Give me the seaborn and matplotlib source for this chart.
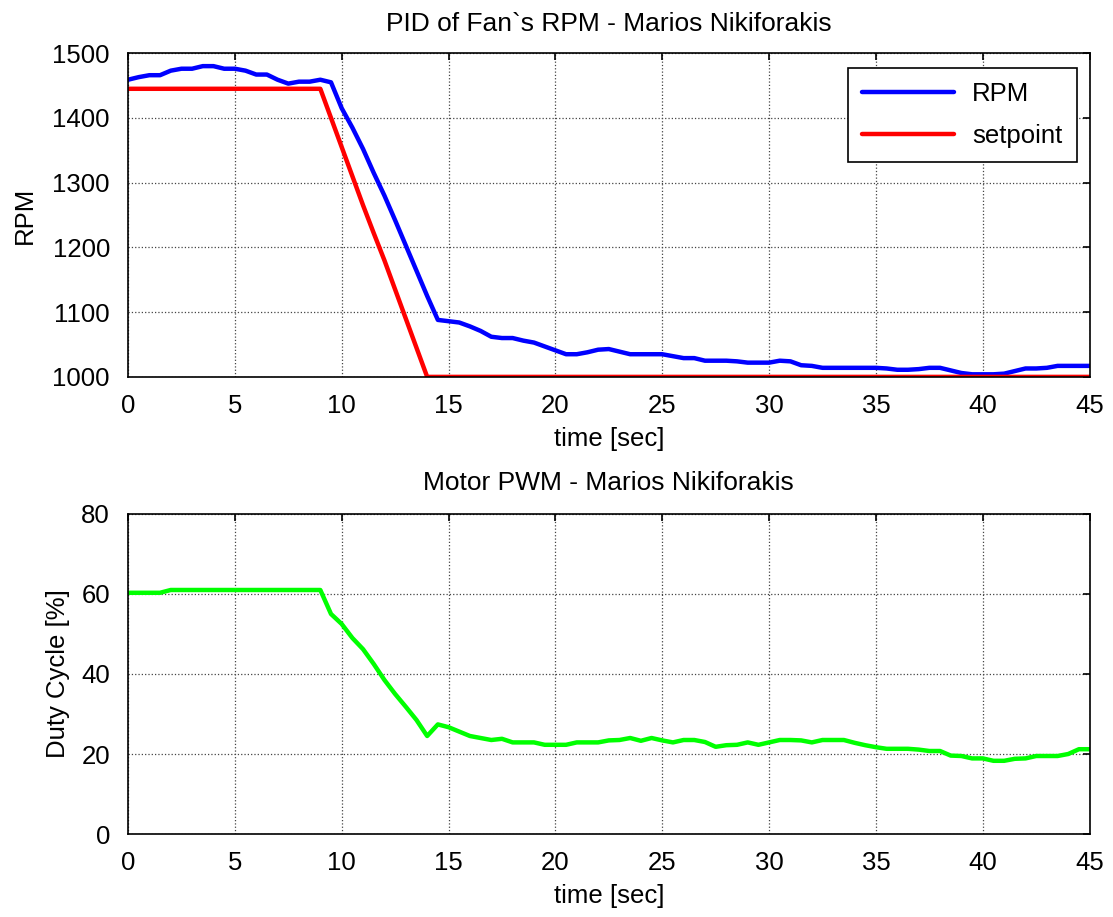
import numpy as np
import pandas as pd
import matplotlib
matplotlib.use('Agg')
import matplotlib.pyplot as plt
import seaborn as sns

# sample times (every 0.5 sec)
time = np.linspace(0, 45, 91)

rpm = [1459, 1463, 1466, 1466, 1473, 1476, 1476, 1480, 1480, 1476,
       1476, 1473, 1467, 1467, 1459, 1453, 1456, 1456, 1459, 1455,
       1415, 1385, 1352, 1315, 1280, 1242, 1203, 1164, 1125, 1088,
       1086, 1084, 1078, 1071, 1062, 1060, 1060, 1056, 1053, 1047,
       1041, 1035, 1035, 1038, 1042, 1043, 1039, 1035, 1035, 1035,
       1035, 1032, 1029, 1029, 1025, 1025, 1025, 1024, 1022, 1022,
       1022, 1025, 1024, 1018, 1017, 1014, 1014, 1014, 1014, 1014,
       1014, 1013, 1011, 1011, 1012, 1014, 1014, 1010, 1006, 1004,
       1004, 1004, 1005, 1009, 1013, 1013, 1014, 1017, 1017, 1017,
       1017]

setpoint = [1445] * 19 + [1400, 1355, 1310, 1265, 1222, 1180, 1135, 1090, 1045, 1000] + [1000] * 62

pwm = [60.3, 60.3, 60.3, 60.3] + [61.0] * 15 + [
       55.0, 52.5, 49.0, 46.2, 42.5, 38.5, 35.0, 31.8, 28.5, 24.5,
       27.4, 26.7, 25.6, 24.5, 24.0, 23.5, 23.8, 22.9, 22.9, 22.9,
       22.3, 22.3, 22.3, 22.9, 22.9, 22.9, 23.4, 23.5, 24.0, 23.3,
       24.0, 23.4, 22.9, 23.5, 23.5, 23.0, 21.8, 22.2, 22.3, 22.9,
       22.3, 22.9, 23.5, 23.5, 23.4, 22.9, 23.5, 23.5, 23.5, 22.8,
       22.2, 21.7, 21.3, 21.3, 21.3, 21.1, 20.75, 20.75, 19.6, 19.5,
       18.9, 18.9, 18.3, 18.3, 18.8, 18.9, 19.5, 19.5, 19.5, 20.0,
       21.2, 21.2]

sns.set_theme(style='white')
plt.rcParams['font.family'] = ['Liberation Sans', 'DejaVu Sans']
plt.rcParams['text.color'] = 'black'
plt.rcParams['axes.labelcolor'] = 'black'
fs = 18.5

fig = plt.figure(figsize=(11.13, 9.17), dpi=100)
ax1 = fig.add_axes([0.115, 0.589, 0.864, 0.353])
ax2 = fig.add_axes([0.115, 0.0905, 0.864, 0.349])

# RPM plot
sns.lineplot(x=time, y=rpm, color='#0000ff', lw=3.2, ax=ax1, label='RPM')
sns.lineplot(x=time, y=setpoint, color='#ff0000', lw=3.2, ax=ax1, label='setpoint')
ax1.set_xlim(0, 45)
ax1.set_ylim(1000, 1500)
ax1.set_yticks([1000, 1100, 1200, 1300, 1400, 1500])
ax1.set_title('PID of Fan`s RPM - Marios Nikiforakis', fontsize=19, pad=16)
ax1.set_ylabel('RPM', fontsize=fs, labelpad=11)
ax1.set_xlabel('time [sec]', fontsize=fs, labelpad=7)
leg = ax1.legend(loc='upper right', fontsize=fs, frameon=True, fancybox=False,
                 edgecolor='black', framealpha=1, borderpad=0.55, labelspacing=0.7,
                 handlelength=3.6, handletextpad=0.7, borderaxespad=0,
                 bbox_to_anchor=(0.9865, 0.954))
leg.get_frame().set_linewidth(1.2)

# PWM plot
sns.lineplot(x=time, y=pwm, color='#00ff00', lw=3.2, ax=ax2)
ax2.set_xlim(0, 45)
ax2.set_ylim(0, 80)
ax2.set_yticks([0, 20, 40, 60, 80])
ax2.set_title('Motor PWM - Marios Nikiforakis', fontsize=19, pad=17)
ax2.set_ylabel('Duty Cycle [%]', fontsize=fs, labelpad=8)
ax2.set_xlabel('time [sec]', fontsize=fs, labelpad=7)

for ax in (ax1, ax2):
    ax.set_xticks(range(0, 50, 5))
    ax.grid(True, color='#444444', linestyle=':', linewidth=0.9)
    ax.tick_params(direction='in', length=5, width=1.2, top=True, right=True,
                   labelsize=fs, colors='black')
    ax.tick_params(axis='x', pad=12)
    ax.tick_params(axis='y', pad=13)
    for sp in ax.spines.values():
        sp.set_color('black')
        sp.set_linewidth(1.2)

plt.savefig('out.png', dpi=100)
